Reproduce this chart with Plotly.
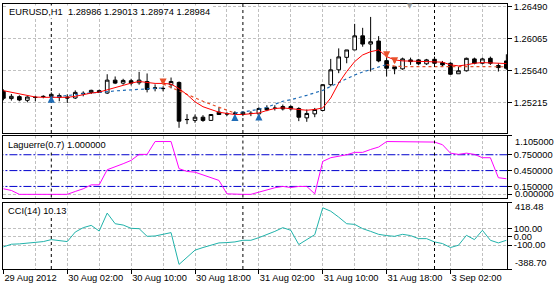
import plotly.graph_objects as go
from plotly.subplots import make_subplots

# ---------------- data ----------------
bars = list(range(64))
x_labels = ["29 Aug 2012", "30 Aug 02:00", "30 Aug 10:00", "30 Aug 18:00",
            "31 Aug 02:00", "31 Aug 10:00", "31 Aug 18:00", "3 Sep 02:00"]
x_label_bars = [0, 8, 16, 24, 32, 40, 48, 56]
day_breaks = [6, 30, 54]

opens = [1.25361, 1.25264, 1.25290, 1.25241, 1.25281, 1.25294, 1.25294, 1.25304,
         1.25285, 1.25272, 1.25330, 1.25347, 1.25370, 1.25338, 1.25511, 1.25471,
         1.25503, 1.25476, 1.25493, 1.25407, 1.25401, 1.25450, 1.25480, 1.24985,
         1.24972, 1.25015, 1.24972, 1.25082, 1.25061, 1.25069, 1.25051, 1.25067,
         1.25059, 1.25139, 1.25136, 1.25157, 1.25157, 1.25131, 1.25006, 1.25059,
         1.25105, 1.25450, 1.25649, 1.25816, 1.25915, 1.26104, 1.25994, 1.26034,
         1.25772, 1.25689, 1.25662, 1.25782, 1.25782, 1.25729, 1.25790, 1.25746,
         1.25737, 1.25596, 1.25636, 1.25795, 1.25737, 1.25803, 1.25706, 1.25768]
highs = [1.25387, 1.25325, 1.25308, 1.25294, 1.25301, 1.25308, 1.25347, 1.25334,
         1.25321, 1.25374, 1.25361, 1.25383, 1.25383, 1.25590, 1.25560, 1.25529,
         1.25529, 1.25622, 1.25600, 1.25454, 1.25427, 1.25546, 1.25493, 1.25055,
         1.25051, 1.25042, 1.25055, 1.25148, 1.25082, 1.25095, 1.25095, 1.25095,
         1.25148, 1.25175, 1.25175, 1.25184, 1.25175, 1.25148, 1.25118, 1.25139,
         1.25458, 1.25795, 1.25936, 1.25915, 1.26264, 1.26211, 1.26357, 1.26100,
         1.25826, 1.25689, 1.25812, 1.25812, 1.25795, 1.25795, 1.25826, 1.25768,
         1.25750, 1.25689, 1.25812, 1.25812, 1.25812, 1.25826, 1.25737, 1.25857]
lows = [1.25241, 1.25237, 1.25228, 1.25214, 1.25228, 1.25268, 1.25268, 1.25228,
        1.25205, 1.25258, 1.25294, 1.25325, 1.25338, 1.25325, 1.25458, 1.25450,
        1.25440, 1.25450, 1.25347, 1.25361, 1.25361, 1.25401, 1.24873, 1.24922,
        1.24940, 1.24953, 1.24972, 1.25051, 1.25029, 1.25042, 1.25029, 1.25029,
        1.25055, 1.25095, 1.25105, 1.25105, 1.25105, 1.24962, 1.24953, 1.25015,
        1.25095, 1.25427, 1.25604, 1.25737, 1.25915, 1.25958, 1.25626, 1.25750,
        1.25560, 1.25590, 1.25649, 1.25715, 1.25715, 1.25715, 1.25715, 1.25693,
        1.25582, 1.25596, 1.25626, 1.25723, 1.25723, 1.25715, 1.25626, 1.25649]
closes = [1.25268, 1.25294, 1.25245, 1.25285, 1.25279, 1.25292, 1.25321, 1.25281,
          1.25272, 1.25347, 1.25334, 1.25374, 1.25347, 1.25511, 1.25471, 1.25507,
          1.25471, 1.25511, 1.25387, 1.25404, 1.25398, 1.25493, 1.24962, 1.24983,
          1.25015, 1.24972, 1.25051, 1.25051, 1.25059, 1.25067, 1.25082, 1.25065,
          1.25131, 1.25113, 1.25134, 1.25126, 1.25126, 1.25015, 1.25065, 1.25118,
          1.25450, 1.25649, 1.25822, 1.25915, 1.26104, 1.25994, 1.26025, 1.25768,
          1.25670, 1.25662, 1.25795, 1.25759, 1.25729, 1.25782, 1.25737, 1.25715,
          1.25590, 1.25636, 1.25803, 1.25737, 1.25795, 1.25737, 1.25679, 1.25670]

ma_fast = [1.25370, 1.25351, 1.25325, 1.25304, 1.25285, 1.25281, 1.25281, 1.25285,
           1.25281, 1.25294, 1.25317, 1.25338, 1.25351, 1.25383, 1.25414, 1.25440,
           1.25471, 1.25493, 1.25480, 1.25467, 1.25467, 1.25458, 1.25397, 1.25317,
           1.25221, 1.25155, 1.25118, 1.25082, 1.25065, 1.25051, 1.25051, 1.25059,
           1.25072, 1.25105, 1.25131, 1.25139, 1.25131, 1.25118, 1.25108, 1.25118,
           1.25139, 1.25272, 1.25471, 1.25626, 1.25759, 1.25848, 1.25892, 1.25915,
           1.25826, 1.25782, 1.25768, 1.25766, 1.25763, 1.25759, 1.25759, 1.25752,
           1.25715, 1.25702, 1.25715, 1.25737, 1.25746, 1.25742, 1.25733, 1.25733]

# trailing signal line, split in trend segments (start bar, values)
sig_up_a_start = 6
sig_up_a = [1.25281, 1.25294, 1.25308, 1.25321, 1.25334, 1.25341, 1.25347, 1.25361,
            1.25367, 1.25374, 1.25381, 1.25387, 1.25394, 1.25401, 1.25407]
sig_dn_a_start = 20
sig_dn_a = [1.25460, 1.25414, 1.25361, 1.25314, 1.25268, 1.25228, 1.25188, 1.25148,
            1.25108, 1.25069]
sig_up_b_start = 29
sig_up_b = [1.25069, 1.25082, 1.25102, 1.25122, 1.25148, 1.25188, 1.25228, 1.25248,
            1.25274, 1.25308, 1.25341, 1.25374, 1.25427, 1.25480, 1.25533, 1.25580,
            1.25620, 1.25653, 1.25693, 1.25719]
sig_dn_b_start = 48
sig_dn_b = [1.25719, 1.25699, 1.25693, 1.25693, 1.25693, 1.25693, 1.25693, 1.25693,
            1.25693, 1.25693, 1.25693, 1.25693, 1.25693, 1.25693, 1.25690, 1.25690]

# arrow tips (price the arrow points at)
buy_bars = [6, 29, 32]
buy_prices = [1.25304, 1.25060, 1.25066]
sell_bars = [20, 48, 49]
sell_prices = [1.25438, 1.25803, 1.25723]

laguerre = [0.106, 0.074, 0.0, 0.0, 0.0, 0.0, 0.0, 0.0,
            0.0, 0.055, 0.106, 0.18, 0.18, 0.466, 0.516, 0.58,
            0.643, 0.757, 0.757, 1.0, 1.0, 1.0, 0.486, 0.434,
            0.42, 0.37, 0.326, 0.264, 0.01, 0.0, 0.0, 0.0,
            0.04, 0.087, 0.125, 0.15, 0.13, 0.15, 0.15, 0.01,
            0.624, 0.694, 0.72, 0.75, 0.795, 0.795, 0.85, 0.896,
            1.0, 1.0, 1.0, 1.0, 1.0, 1.0, 0.99, 0.94,
            0.78, 0.757, 0.78, 0.757, 0.694, 0.694, 0.315, 0.296]
laguerre_levels = [0.75, 0.45, 0.15]

cci = [-120, -88, -84, -76, -68, -56, -32, -48,
       -56, 60, 113, 141, 72, 290, 161, 145,
       105, 101, 8, 12, 36, 53, -333, -248,
       -160, -128, -100, -72, -68, -60, -40, -40,
       -8, 28, 68, 113, 81, -92, -32, 28,
       354, 313, 241, 161, 153, 101, 68, 32,
       17, 8, 32, 17, -20, -20, -60, -80,
       -128, -100, 20, -32, 81, -40, -72, -40]
cci_levels = [100, 0, -100]

price_ticks = [1.26490, 1.26065, 1.25640, 1.25215]
price_range = [1.24803, 1.26530]
lag_range = [-0.06, 1.105]
cci_range = [-388.70, 418.48]

# ---------------- figure ----------------
FONT = "Liberation Sans"
FS = 9.3
GRID = "#c0c0c0"
BLUE = "#1f6cb6"
ORANGE = "#e8502a"

fig = make_subplots(rows=3, cols=1, shared_xaxes=True, vertical_spacing=0.01)

fig.add_trace(go.Candlestick(
    x=bars, open=opens, high=highs, low=lows, close=closes,
    increasing=dict(line=dict(color="black", width=1), fillcolor="white"),
    decreasing=dict(line=dict(color="black", width=1), fillcolor="black"),
    whiskerwidth=0, showlegend=False, hoverinfo="skip"), row=1, col=1)

seg_specs = [(sig_up_a_start, sig_up_a, BLUE), (sig_dn_a_start, sig_dn_a, ORANGE),
             (sig_up_b_start, sig_up_b, BLUE), (sig_dn_b_start, sig_dn_b, ORANGE)]
for start, vals, col in seg_specs:
    fig.add_trace(go.Scatter(x=list(range(start, start + len(vals))), y=vals, mode="lines",
                             line=dict(color=col, width=1.2, dash="3px,3px"),
                             showlegend=False, hoverinfo="skip"), row=1, col=1)

fig.add_trace(go.Scatter(x=bars, y=ma_fast, mode="lines", line=dict(color="#ff0000", width=1),
                         showlegend=False, hoverinfo="skip"), row=1, col=1)

# Laguerre pane
for lv in laguerre_levels:
    fig.add_trace(go.Scatter(x=[bars[0] - 1, bars[-1] + 1], y=[lv, lv], mode="lines",
                             line=dict(color="#0000cd", width=1, dash="8px,2px,2px,2px"),
                             showlegend=False, hoverinfo="skip"), row=2, col=1)
fig.add_trace(go.Scatter(x=bars, y=laguerre, mode="lines", line=dict(color="#ff00ff", width=1),
                         showlegend=False, hoverinfo="skip"), row=2, col=1)

# CCI pane
fig.add_trace(go.Scatter(x=bars, y=cci, mode="lines", line=dict(color="#20b2aa", width=1),
                         showlegend=False, hoverinfo="skip"), row=3, col=1)

xr = [-0.05, 63.08]
common_x = dict(range=xr, showline=True, mirror=True, linecolor="black", linewidth=1,
                showgrid=True, gridcolor=GRID, griddash="3px,2px", gridwidth=1,
                tickvals=x_label_bars, zeroline=False, rangeslider=dict(visible=False),
                minor=dict(tickvals=[v + 4 for v in x_label_bars], showgrid=True,
                           gridcolor=GRID, griddash="3px,2px", ticks=""))
fig.update_layout(
    xaxis=dict(**common_x, showticklabels=False, ticks=""),
    xaxis2=dict(**common_x, showticklabels=False, ticks=""),
    xaxis3=dict(**common_x, ticktext=x_labels, showticklabels=True, ticks="outside",
                ticklen=4, tickcolor="black", ticklabelposition="outside right"),
)

common_y = dict(side="right", showline=True, mirror=True, linecolor="black", linewidth=1,
                ticks="outside", ticklen=4, tickcolor="black", zeroline=False)
fig.update_layout(
    yaxis=dict(**common_y, domain=[0.5131, 1.0], range=price_range, tickvals=price_ticks,
               ticktext=[f"{v:.5f}" for v in price_ticks], showgrid=True, gridcolor=GRID,
               griddash="3px,2px"),
    yaxis2=dict(**common_y, domain=[0.2697, 0.5019], range=lag_range,
                tickvals=[lag_range[1]] + laguerre_levels + [0.0],
                ticktext=[""] + [f"{v:.6f}" for v in laguerre_levels] + [""],
                showgrid=False,
                minor=dict(tickvals=[0.0], showgrid=True, gridcolor=GRID, griddash="3px,2px", ticks="")),
    yaxis3=dict(**common_y, domain=[0.0, 0.2509], range=cci_range,
                tickvals=[cci_range[1]] + cci_levels + [cci_range[0]],
                ticktext=[""] + [f"{v:.2f}" for v in cci_levels] + [""],
                showgrid=False,
                minor=dict(tickvals=cci_levels, showgrid=True, gridcolor=GRID, griddash="3px,2px", ticks="")),
)

shapes = []
for yref, xref in [("y domain", "x"), ("y2 domain", "x2"), ("y3 domain", "x3")]:
    for b in day_breaks:
        shapes.append(dict(type="line", xref=xref, yref=yref, x0=b, x1=b, y0=0, y1=1,
                           line=dict(color="black", width=1, dash="3px,3px"), layer="above"))
fig.update_layout(shapes=shapes)

W, H = 559, 287
L, R, T, B = 2, 52, 2, 18
pw, ph = W - L - R, H - T - B


def px(xp):
    return (xp - L) / pw


def py(yp):
    return (H - B - yp) / ph


ann = [
    dict(text="EURUSD,H1  1.28986 1.29013 1.28974 1.28984", x=px(6), y=py(10), bgcolor="white"),
    dict(text="Laguerre(0.7) 1.000000", x=px(5), y=py(144), bgcolor="white"),
    dict(text="CCI(14) 10.13", x=px(5), y=py(211), bgcolor="white"),
    dict(text=f"{lag_range[1]:.6f}", x=px(513), y=py(141)),
    dict(text="0.000000", x=px(513), y=py(193)),
    dict(text=f"{cci_range[1]:.2f}", x=px(513), y=py(207)),
    dict(text=f"{cci_range[0]:.2f}", x=px(513), y=py(263)),
]
annotations = []
for a in ann:
    annotations.append(dict(xref="paper", yref="paper", xanchor="left", yanchor="middle",
                            showarrow=False, font=dict(family=FONT, size=FS, color="black"), **a))
annotations.append(dict(xref="paper", yref="paper", x=px(410), y=py(4), text="▼",
                        showarrow=False, xanchor="center", yanchor="middle",
                        font=dict(family="DejaVu Sans", size=7, color="#a0a0a0")))

# signal arrows (thick arrows drawn via annotation arrows pointing at the tip price)
for bx, pr in zip(buy_bars, buy_prices):
    annotations.append(dict(x=bx, y=pr, xref="x", yref="y", text="", showarrow=True,
                            ax=0, ay=7, arrowhead=2, arrowsize=0.65, arrowwidth=2.2,
                            arrowcolor=BLUE, standoff=0, startstandoff=0))
for bx, pr in zip(sell_bars, sell_prices):
    annotations.append(dict(x=bx, y=pr, xref="x", yref="y", text="", showarrow=True,
                            ax=0, ay=-7, arrowhead=2, arrowsize=0.65, arrowwidth=2.2,
                            arrowcolor=ORANGE, standoff=0, startstandoff=0))

fig.update_layout(
    width=W, height=H, margin=dict(l=L, r=R, t=T, b=B, pad=0),
    paper_bgcolor="white", plot_bgcolor="white",
    font=dict(family=FONT, size=FS, color="black"),
    annotations=annotations, showlegend=False, boxgap=0.35,
)

fig.write_html("out.html")
